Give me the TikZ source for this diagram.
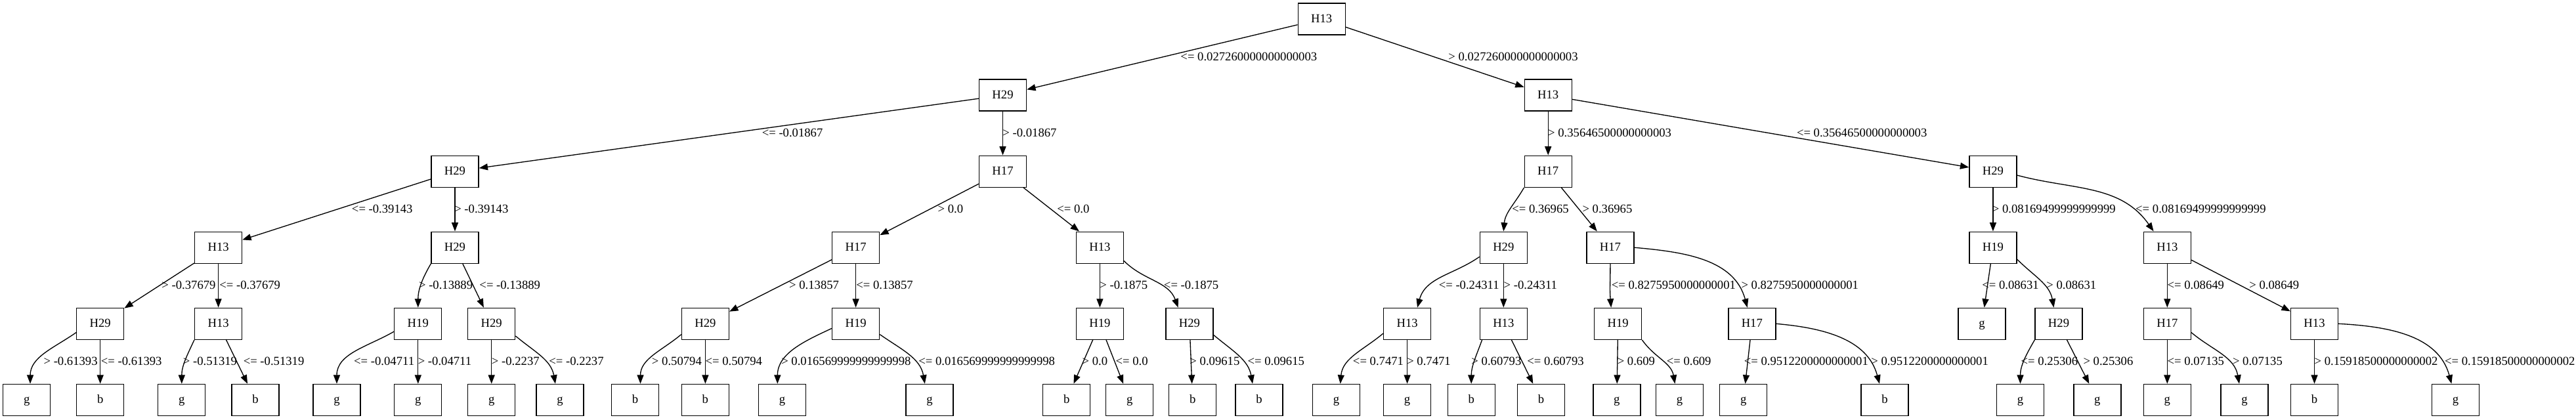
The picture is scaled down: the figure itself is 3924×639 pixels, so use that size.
\documentclass[tikz,border=0pt]{standalone}
\usepackage{fontspec}
\setmainfont{Liberation Serif}
\usetikzlibrary{arrows.meta}
\tikzset{
  tbox/.style={draw, line width=1pt, rectangle, minimum width=54pt, minimum height=36pt,
    inner sep=0pt, font=\fontsize{14}{16}\selectfont, text height=8.2pt, text depth=0pt},
  lbl/.style={anchor=west, inner sep=0pt, font=\fontsize{14}{16}\selectfont,
    text height=9.5pt, text depth=0pt},
  conn/.style={line width=1pt, -{Triangle[length=10pt,width=7.5pt]}},
}
\begin{document}
\begin{tikzpicture}[x=0.75pt,y=0.75pt]
\useasboundingbox (0,0) rectangle (3924,-639);
% level 0
\node[tbox] (r) at (2013.2,-29) {H13};
% level 1
\node[tbox] (A) at (1527.5,-145.1) {H29};
\node[tbox] (B) at (2358.2,-145.1) {H13};
% level 2
\node[tbox] (AA) at (693,-261.2) {H29};
\node[tbox] (AB) at (1527.5,-261.2) {H17};
\node[tbox] (BA) at (2358.2,-261.2) {H17};
\node[tbox] (BB) at (3035.9,-261.2) {H29};
% level 3
\node[tbox] (AAA) at (332.6,-377.2) {H13};
\node[tbox] (AAB) at (693,-377.2) {H29};
\node[tbox] (ABA) at (1303.6,-377.2) {H17};
\node[tbox] (ABB) at (1675.4,-377.2) {H13};
\node[tbox] (BAA) at (2290.3,-377.2) {H29};
\node[tbox] (BAB) at (2452.9,-377.2) {H17};
\node[tbox] (BBA) at (3035.9,-377.2) {H19};
\node[tbox] (BBB) at (3301.3,-377.2) {H13};
% level 4
\node[tbox] (AAAA) at (152.7,-493.3) {H29};
\node[tbox] (AAAB) at (332.6,-493.3) {H13};
\node[tbox] (AABA) at (636.8,-493.3) {H19};
\node[tbox] (AABB) at (748.7,-493.3) {H29};
\node[tbox] (ABAA) at (1074.4,-493.3) {H29};
\node[tbox] (ABAB) at (1303.6,-493.3) {H19};
\node[tbox] (ABBA) at (1675.4,-493.3) {H19};
\node[tbox] (ABBB) at (1811.9,-493.3) {H29};
\node[tbox] (BAAA) at (2143.6,-493.3) {H13};
\node[tbox] (BAAB) at (2290.3,-493.3) {H13};
\node[tbox] (BABA) at (2464.7,-493.3) {H19};
\node[tbox] (BABB) at (2668.8,-493.3) {H17};
\node[tbox] (BBAA) at (3019,-493.3) {g};
\node[tbox] (BBAB) at (3136,-493.3) {H29};
\node[tbox] (BBBA) at (3301.3,-493.3) {H17};
\node[tbox] (BBBB) at (3525.5,-493.3) {H13};
% level 5
\node[tbox] (AAAA1) at (40.8,-609.4) {g};
\node[tbox] (AAAA2) at (152.7,-609.4) {b};
\node[tbox] (AAAB1) at (276.8,-609.4) {g};
\node[tbox] (AAAB2) at (389,-609.4) {b};
\node[tbox] (AABA1) at (513,-609.4) {g};
\node[tbox] (AABA2) at (636.8,-609.4) {g};
\node[tbox] (AABB1) at (748.7,-609.4) {g};
\node[tbox] (AABB2) at (853,-609.4) {g};
\node[tbox] (ABAA1) at (967.5,-609.4) {b};
\node[tbox] (ABAA2) at (1074.4,-609.4) {b};
\node[tbox] (ABAB1) at (1191.4,-609.4) {g};
\node[tbox] (ABAB2) at (1415.9,-609.4) {g};
\node[tbox] (ABBA1) at (1624.7,-609.4) {b};
\node[tbox] (ABBA2) at (1720.7,-609.4) {g};
\node[tbox] (ABBB1) at (1816.7,-609.4) {b};
\node[tbox] (ABBB2) at (1918,-609.4) {b};
\node[tbox] (BAAA1) at (2035.5,-609.4) {g};
\node[tbox] (BAAA2) at (2143.6,-609.4) {g};
\node[tbox] (BAAB1) at (2241.2,-609.4) {b};
\node[tbox] (BAAB2) at (2347.4,-609.4) {b};
\node[tbox] (BABA1) at (2462.8,-609.4) {g};
\node[tbox] (BABA2) at (2558.5,-609.4) {g};
\node[tbox] (BABB1) at (2655.7,-609.4) {g};
\node[tbox] (BABB2) at (2871,-609.4) {b};
\node[tbox] (BBAB1) at (3077.5,-609.4) {g};
\node[tbox] (BBAB2) at (3194.8,-609.4) {g};
\node[tbox] (BBBA1) at (3301.3,-609.4) {g};
\node[tbox] (BBBA2) at (3419,-609.4) {g};
\node[tbox] (BBBB1) at (3525.5,-609.4) {b};
\node[tbox] (BBBB2) at (3740.5,-609.4) {g};

% edges level 0-1
\draw[conn] (r) -- (A);
\draw[conn] (r) -- (B);
% level 1-2
\draw[conn] (A) -- (AA);
\draw[conn] (A) -- (AB);
\draw[conn] (B) -- (BA);
\draw[conn] (B) -- (BB);
% level 2-3
\draw[conn] (AA) -- (AAA);
\draw[conn] (AA) -- (AAB);
\draw[conn] (AB) -- (ABA);
\draw[conn] (AB) -- (ABB);
\draw[conn] (BA.south west) to[out=240,in=85] (BAA.north);
\draw[conn] (BA) -- (BAB);
\draw[conn] (BB) -- (BBA);
\draw[conn] (BB.-9) to[out=-15,in=125] (BBB.130);
% level 3-4
\draw[conn] (AAA) -- (AAAA);
\draw[conn] (AAA) -- (AAAB);
\draw[conn] (AAB.south west) to[out=240,in=90] (AABA.north);
\draw[conn] (AAB) -- (AABB);
\draw[conn] (ABA) -- (ABAA);
\draw[conn] (ABA) -- (ABAB);
\draw[conn] (ABB) -- (ABBA);
\draw[conn] (ABB.-29) to[out=-45,in=110] (ABBB.125);
\draw[conn] (BAA.201) to[out=215,in=75] (BAAA.58);
\draw[conn] (BAA) -- (BAAB);
\draw[conn] (BAB.south) to[out=-90,in=95] (BABA.113);
\draw[conn] (BAB.east) to[out=-5,in=105] (BABB.106);
\draw[conn] (BBA) -- (BBAA);
\draw[conn] (BBA.-26.6) to[out=-45,in=100] (BBAB.107);
\draw[conn] (BBB) -- (BBBA);
\draw[conn] (BBB) -- (BBBB);
% level 4-5
\draw[conn] (AAAA.200) to[out=215,in=90] (AAAA1.78);
\draw[conn] (AAAA) -- (AAAA2);
\draw[conn] (AAAB.south west) to[out=245,in=90] (AAAB1.north);
\draw[conn] (AAAB) -- (AAAB2);
\draw[conn] (AABA.198) to[out=210,in=90] (AABA1.north);
\draw[conn] (AABA) -- (AABA2);
\draw[conn] (AABB) -- (AABB1);
\draw[conn] (AABB.333) to[out=-40,in=100] (AABB2.106);
\draw[conn] (ABAA.204) to[out=220,in=90] (ABAA1.72);
\draw[conn] (ABAA) -- (ABAA2);
\draw[conn] (ABAB.191) to[out=205,in=90] (ABAB1.106);
\draw[conn] (ABAB.336) to[out=-35,in=100] (ABAB2.106);
\draw[conn] (ABBA) -- (ABBA1);
\draw[conn] (ABBA) -- (ABBA2);
\draw[conn] (ABBB) -- (ABBB1);
\draw[conn] (ABBB.335) to[out=-40,in=100] (ABBB2.112);
\draw[conn] (BAAA.202) to[out=220,in=85] (BAAA1.76);
\draw[conn] (BAAA) -- (BAAA2);
\draw[conn] (BAAB.217.5) to[out=250,in=90] (BAAB1.north);
\draw[conn] (BAAB) -- (BAAB2);
\draw[conn] (BABA) -- (BABA1);
\draw[conn] (BABA.south east) to[out=-55,in=100] (BABA2.106);
\draw[conn] (BABB) -- (BABB1);
\draw[conn] (BABB.east) to[out=-5,in=105] (BABB2.108);
\draw[conn] (BBAB.south west) to[out=240,in=90] (BBAB1.north);
\draw[conn] (BBAB) -- (BBAB2);
\draw[conn] (BBBA) -- (BBBA1);
\draw[conn] (BBBA.-20) to[out=-40,in=100] (BBBA2.108);
\draw[conn] (BBBB) -- (BBBB1);
\draw[conn] (BBBB.east) to[out=-3,in=105] (BBBB2.104);

% labels level 0-1
\node[lbl] (t01) at (1798.2,-86.5) {<= 0.027260000000000003};
\node[lbl] (t02) at (2206.1,-86.5) {> 0.027260000000000003};
% labels level 1-2
\node[lbl] (t11) at (1160.5,-202.2) {<= -0.01867};
\node[lbl] (t12) at (1527.2,-202.2) {> -0.01867};
\node[lbl] (t13) at (2357.9,-202.2) {> 0.35646500000000003};
\node[lbl] (t14) at (2736.7,-202.2) {<= 0.35646500000000003};
% labels level 2-3
\node[lbl] (t21) at (535.7,-318.3) {<= -0.39143};
\node[lbl] (t22) at (692,-318.3) {> -0.39143};
\node[lbl] (t23) at (1428.3,-318.3) {> 0.0};
\node[lbl] (t24) at (1610,-318.3) {<= 0.0};
\node[lbl] (t25) at (2303,-318.3) {<= 0.36965};
\node[lbl] (t26) at (2410.2,-318.3) {> 0.36965};
\node[lbl] (t27) at (3034.6,-318.3) {> 0.08169499999999999};
\node[lbl] (t28) at (3252.9,-318.3) {<= 0.08169499999999999};
% labels level 3-4
\node[lbl] (t31) at (246.2,-434.4) {> -0.37679};
\node[lbl] (t32) at (334.2,-434.4) {<= -0.37679};
\node[lbl] (t33) at (637.8,-434.4) {> -0.13889};
\node[lbl] (t34) at (730.2,-434.4) {<= -0.13889};
\node[lbl] (t35) at (1201.9,-434.4) {> 0.13857};
\node[lbl] (t36) at (1304,-434.4) {<= 0.13857};
\node[lbl] (t37) at (1675.1,-434.4) {> -0.1875};
\node[lbl] (t38) at (1772.7,-434.4) {<= -0.1875};
\node[lbl] (t39) at (2191.5,-434.4) {<= -0.24311};
\node[lbl] (t310) at (2290.3,-434.4) {> -0.24311};
\node[lbl] (t311) at (2454.6,-434.4) {<= 0.8275950000000001};
\node[lbl] (t312) at (2652.2,-434.4) {> 0.8275950000000001};
\node[lbl] (t313) at (3019,-434.4) {<= 0.08631};
\node[lbl] (t314) at (3117,-434.4) {> 0.08631};
\node[lbl] (t315) at (3301.3,-434.4) {<= 0.08649};
\node[lbl] (t316) at (3426.1,-434.4) {> 0.08649};
% labels level 4-5
\node[lbl] (t41) at (66.3,-550.5) {> -0.61393};
\node[lbl] (t42) at (153.7,-550.5) {<= -0.61393};
\node[lbl] (t43) at (278.7,-550.5) {> -0.51319};
\node[lbl] (t44) at (370.5,-550.5) {<= -0.51319};
\node[lbl] (t45) at (538.9,-550.5) {<= -0.04711};
\node[lbl] (t46) at (636.5,-550.5) {> -0.04711};
\node[lbl] (t47) at (748.7,-550.5) {> -0.2237};
\node[lbl] (t48) at (836.1,-550.5) {<= -0.2237};
\node[lbl] (t49) at (992.7,-550.5) {> 0.50794};
\node[lbl] (t410) at (1074.4,-550.5) {<= 0.50794};
\node[lbl] (t411) at (1190,-550.5) {> 0.016569999999999998};
\node[lbl] (t412) at (1399,-550.5) {<= 0.016569999999999998};
\node[lbl] (t413) at (1648.3,-550.5) {> 0.0};
\node[lbl] (t414) at (1699.4,-550.5) {<= 0.0};
\node[lbl] (t415) at (1812.2,-550.5) {> 0.09615};
\node[lbl] (t416) at (1900.3,-550.5) {<= 0.09615};
\node[lbl] (t417) at (2060.7,-550.5) {<= 0.7471};
\node[lbl] (t418) at (2143,-550.5) {> 0.7471};
\node[lbl] (t419) at (2241.2,-550.5) {> 0.60793};
\node[lbl] (t420) at (2326,-550.5) {<= 0.60793};
\node[lbl] (t421) at (2463.5,-550.5) {> 0.609};
\node[lbl] (t422) at (2538.5,-550.5) {<= 0.609};
\node[lbl] (t423) at (2656.5,-550.5) {<= 0.9512200000000001};
\node[lbl] (t424) at (2850,-550.5) {> 0.9512200000000001};
\node[lbl] (t425) at (3078.4,-550.5) {<= 0.25306};
\node[lbl] (t426) at (3173.2,-550.5) {> 0.25306};
\node[lbl] (t427) at (3301.3,-550.5) {<= 0.07135};
\node[lbl] (t428) at (3400.7,-550.5) {> 0.07135};
\node[lbl] (t429) at (3525.3,-550.5) {> 0.15918500000000002};
\node[lbl] (t430) at (3723.8,-550.5) {<= 0.15918500000000002};
\end{tikzpicture}
\end{document}
